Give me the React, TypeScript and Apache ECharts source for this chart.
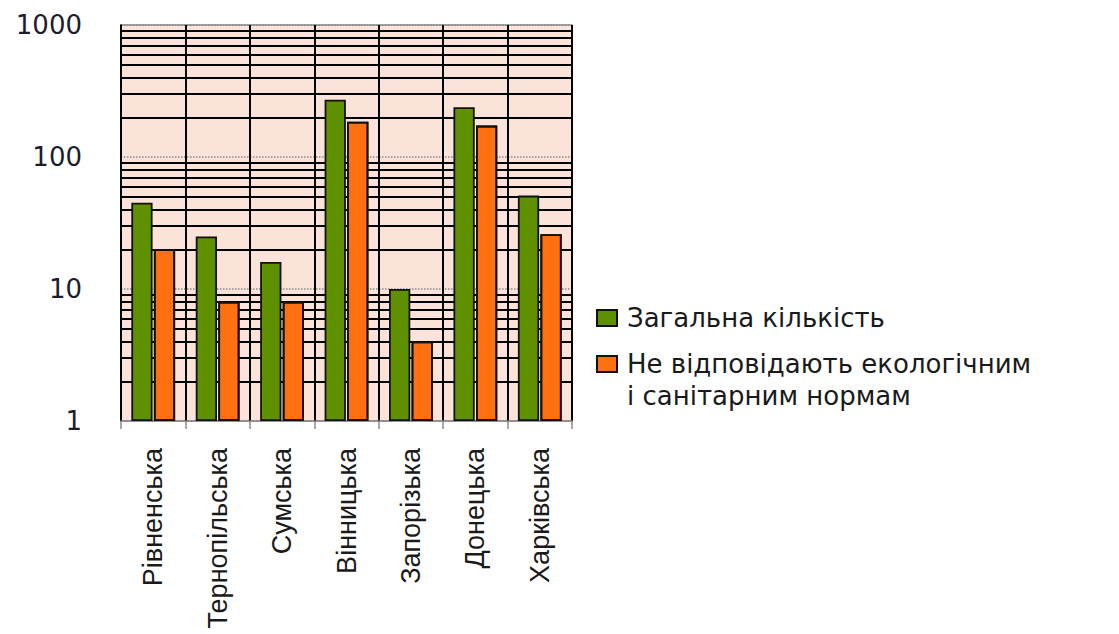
import React, { useEffect, useRef } from "react";
import * as echarts from "echarts";

const categories = [
  "Рівненська",
  "Тернопільська",
  "Сумська",
  "Вінницька",
  "Запорізька",
  "Донецька",
  "Харківська",
];
const seriesNames = ["Загальна кількість", "Не відповідають екологічним\nі санітарним нормам"];
const totalValues = [45, 25, 16, 272, 10, 238, 51];
const nonCompliantValues = [20, 8, 8, 185, 4, 173, 26];
const minorGridValues = [
  2, 3, 4, 5, 6, 7, 8, 9,
  20, 30, 40, 50, 60, 70, 80, 90,
  200, 300, 400, 500, 600, 700, 800, 900,
];

const legendText = {
  color: "#1a1a1a",
  rich: {
    t: {
      fontFamily: "DejaVu Sans",
      fontSize: 26,
      color: "#1a1a1a",
      lineHeight: 32,
      padding: [0, 0, 0, 5],
    },
  },
};
const legendFormatter = (name: string) =>
  name
    .split("\n")
    .map((l) => "{t|" + l + "}")
    .join("\n");

export default function App() {
  const ref = useRef<HTMLDivElement>(null);
  useEffect(() => {
    document.body.style.margin = "0";
    if (!ref.current) return;
    const chart = echarts.init(ref.current, undefined, { renderer: "svg" });
    chart.setOption({
      animation: false,
      backgroundColor: "#ffffff",
      grid: {
        left: 121,
        top: 25,
        width: 451,
        height: 396,
        show: true,
        backgroundColor: "#fce3d9",
        borderColor: "#8a8a8a",
        borderWidth: 1.5,
      },
      legend: [
        {
          orient: "vertical",
          left: 591,
          top: 300,
          itemWidth: 20,
          itemHeight: 16,
          icon: "rect",
          data: [seriesNames[0]],
          formatter: legendFormatter,
          textStyle: legendText,
        },
        {
          orient: "vertical",
          left: 591,
          top: 346,
          itemWidth: 20,
          itemHeight: 48,
          icon: "path://M0,0L20,0L20,16L0,16Z M0,48",
          data: [seriesNames[1]],
          formatter: legendFormatter,
          textStyle: legendText,
        },
      ],
      xAxis: {
        type: "category",
        data: categories,
        axisLine: { show: true, lineStyle: { color: "#8a8a8a", width: 1.5, type: "dotted" } },
        axisTick: { show: true, interval: 0, length: 8, lineStyle: { color: "#8a8a8a", width: 1.5 } },
        splitLine: { show: true, interval: 0, lineStyle: { color: "#000000", width: 2 } },
        axisLabel: {
          interval: 0,
          rotate: 90,
          margin: 27,
          fontFamily: "Liberation Sans",
          fontSize: 27,
          color: "#1a1a1a",
        },
      },
      yAxis: {
        type: "log",
        logBase: 10,
        min: 1,
        max: 1000,
        axisLine: { show: true, lineStyle: { color: "#000000", width: 1.5 } },
        axisTick: { show: false },
        splitLine: { show: true, lineStyle: { color: "#8a8a8a", width: 1.5, type: "dotted" } },
        axisLabel: {
          margin: 39,
          fontFamily: "DejaVu Sans",
          fontSize: 26,
          color: "#1c1c2c",
          formatter: (v: number) => String(Math.round(v)),
        },
      },
      series: [
        {
          name: seriesNames[0],
          type: "bar",
          data: totalValues,
          barCategoryGap: "32%",
          barGap: "6%",
          z: 2,
          itemStyle: { color: "#5f9000", borderColor: "#111111", borderWidth: 1.8 },
          markLine: {
            silent: true,
            z: 1,
            symbol: "none",
            label: { show: false },
            lineStyle: { color: "#000000", width: 2, type: "solid" },
            data: minorGridValues.map((v) => ({ yAxis: v })),
          },
        },
        {
          name: seriesNames[1],
          type: "bar",
          data: nonCompliantValues,
          z: 2,
          itemStyle: {
            color: "#ff7010",
            borderColor: "#111111",
            borderWidth: 1.8,
            decal: {
              symbol: "circle",
              symbolSize: 0.5,
              color: "rgba(200,70,0,0.45)",
              dashArrayX: [1, 0],
              dashArrayY: [3, 0],
            },
          },
        },
      ],
    });
    return () => chart.dispose();
  }, []);
  return <div ref={ref} style={{ width: 1119, height: 634 }} />;
}
